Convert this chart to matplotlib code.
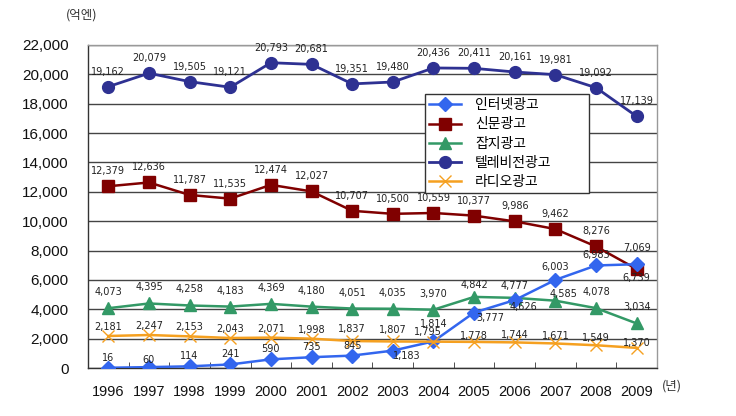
import matplotlib
matplotlib.use("Agg")
import matplotlib.pyplot as plt
from matplotlib.ticker import FuncFormatter, MultipleLocator

years = ["1996", "1997", "1998", "1999", "2000", "2001", "2002",
         "2003", "2004", "2005", "2006", "2007", "2008", "2009"]
internet = [16, 60, 114, 241, 590, 735, 845, 1183, 1814, 3777, 4626, 6003, 6983, 7069]
newspaper = [12379, 12636, 11787, 11535, 12474, 12027, 10707, 10500, 10559, 10377, 9986, 9462, 8276, 6739]
magazine = [4073, 4395, 4258, 4183, 4369, 4180, 4051, 4035, 3970, 4842, 4777, 4585, 4078, 3034]
tv = [19162, 20079, 19505, 19121, 20793, 20681, 19351, 19480, 20436, 20411, 20161, 19981, 19092, 17139]
radio = [2181, 2247, 2153, 2043, 2071, 1998, 1837, 1807, 1795, 1778, 1744, 1671, 1549, 1370]
labels = ["인터넷광고", "신문광고", "잡지광고", "텔레비전광고", "라디오광고"]

W, H = 736, 416
fig = plt.figure(figsize=(W / 100, H / 100), dpi=100)
ax = fig.add_axes([88 / W, 1 - 368 / H, (657 - 88) / W, (368 - 45) / H])

x = list(range(len(years)))

c_int = "#3366EE"
c_news = "#800000"
c_mag = "#339966"
c_tv = "#2E3192"
c_rad = "#F5A020"

ax.plot(x, tv, color=c_tv, lw=2.0, marker="o", ms=8.5, label=labels[3], zorder=3)
ax.plot(x, newspaper, color=c_news, lw=1.8, marker="s", ms=8, label=labels[1], zorder=3)
ax.plot(x, magazine, color=c_mag, lw=1.8, marker="^", ms=9, label=labels[2], zorder=3)
ax.plot(x, internet, color=c_int, lw=1.8, marker="D", ms=7, label=labels[0], zorder=4)
ax.plot(x, radio, color=c_rad, lw=1.8, marker="x", ms=8, mew=1.0, label=labels[4], zorder=5)

# label offsets in pixels (dx, dy)
def offs(n, default):
    return [default] * n

tv_off = offs(14, (0, 15))
news_off = offs(14, (0, 15))
news_off[13] = (0, -9)
mag_off = offs(14, (0, 16))
mag_off[9] = (0, 12)
mag_off[10] = (0, 12)
mag_off[11] = (8, 7)
rad_off = offs(14, (0, 9))
rad_off[6] = (0, 12)
rad_off[7] = (0, 11)
rad_off[8] = (-6, 10)
rad_off[9] = (0, 6)
rad_off[10] = (0, 7)
rad_off[11] = (0, 7)
rad_off[12] = (0, 7)
rad_off[13] = (0, 5)
int_off = offs(14, (0, 10))
int_off[1] = (0, 7)
int_off[7] = (14, -5)
int_off[8] = (0, 17)
int_off[9] = (16, -5)
int_off[10] = (9, -7)
int_off[11] = (0, 13)
int_off[12] = (0, 10)
int_off[13] = (0, 16)

for series, off in [(tv, tv_off), (newspaper, news_off), (magazine, mag_off),
                    (radio, rad_off), (internet, int_off)]:
    for i, v in enumerate(series):
        ax.annotate(f"{v:,}", (i, v), xytext=off[i], textcoords="offset pixels",
                    ha="center", va="center", fontsize=7, color="#222222",
                    family="DejaVu Sans", zorder=6)

ax.set_xlim(-0.5, 13.5)
ax.set_ylim(0, 22000)
ax.yaxis.set_major_locator(MultipleLocator(2000))
ax.yaxis.set_major_formatter(FuncFormatter(lambda v, p: f"{int(v):,}"))
ax.set_xticks(x)
ax.set_xticklabels(years)
ax.set_xticks([i + 0.5 for i in range(13)], minor=True)
ax.tick_params(axis="x", which="major", length=0, pad=12, labelsize=10.5)
ax.tick_params(axis="x", which="minor", direction="in", length=4, color="#333333")
ax.tick_params(axis="y", length=0, pad=14, labelsize=11)
for lab in ax.get_xticklabels() + ax.get_yticklabels():
    lab.set_family("Liberation Sans")
    lab.set_color("#111111")

ax.grid(axis="y", color="#444444", lw=1.0, zorder=1)
ax.spines["left"].set_color("#333333")
ax.spines["bottom"].set_color("#333333")
ax.spines["top"].set_color("#999999")
ax.spines["right"].set_color("#999999")
for s in ax.spines.values():
    s.set_linewidth(1.0)

handles, labs = ax.get_legend_handles_labels()
order = [labs.index(l) for l in labels]
leg = fig.legend([handles[i] for i in order], [labs[i] for i in order],
                 loc="upper left", mode="expand",
                 bbox_to_anchor=(425 / W, 1 - 193 / H, 164 / W, 99 / H),
                 prop={"family": ["Noto Sans CJK KR", "DejaVu Sans"], "size": 10},
                 frameon=True, fancybox=False, framealpha=1, edgecolor="#333333",
                 borderpad=0.3, labelspacing=0.38, handlelength=2.3, handletextpad=1.0,
                 borderaxespad=0)
leg.get_frame().set_linewidth(1.0)

fig.text(82 / W, 1 - 15 / H, "(억엔)", ha="center", va="center", fontsize=9,
         color="#333333", family=["Noto Sans CJK KR", "DejaVu Sans"])
fig.text(672 / W, 1 - 386 / H, "(년)", ha="center", va="center", fontsize=9,
         color="#333333", family=["Noto Sans CJK KR", "DejaVu Sans"])

fig.savefig("out.png", dpi=100)
